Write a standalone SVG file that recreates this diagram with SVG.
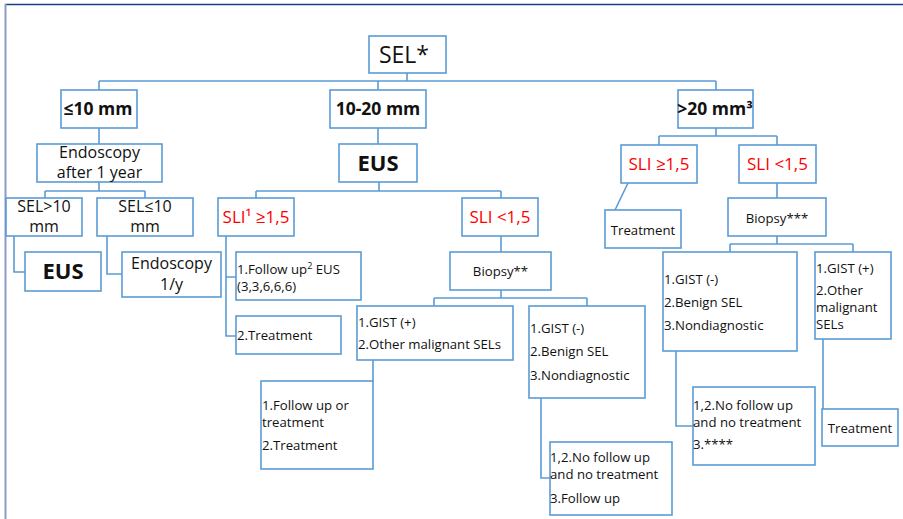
<svg xmlns="http://www.w3.org/2000/svg" width="903" height="519" viewBox="0 0 903 519">
<style>
.b{fill:#fff;stroke:#5b9bd5;stroke-width:1.6}
.c{fill:none;stroke:#5b9bd5;stroke-width:1.6}
text{font-family:"Open Sans","Liberation Sans",sans-serif;fill:#111}
.bd{font-weight:bold;font-size:17.5px}
.r{fill:#ff0000;font-size:17px}
.s{font-size:13.2px}
.l{font-size:16px}
.e{font-weight:bold;font-size:22px}
.m{text-anchor:middle}
</style>
<rect width="903" height="519" fill="#fff"/>
<line x1="5" y1="4.5" x2="903" y2="4.5" stroke="#1f3c88" stroke-width="1.5"/>
<line x1="5.5" y1="4" x2="5.5" y2="519" stroke="#8e9ac6" stroke-width="2"/>
<g id="connectors">
<path class="c" d="M407,73V81M99,81H716M99,81V90M378,81V90M716,81V90"/>
<path class="c" d="M99,128V144M99,182V191M45,191H145M45,191V198M145,191V198"/>
<path class="c" d="M14,236V272H25M107,236V274H122"/>
<path class="c" d="M378,128V144M379,182V191M256,191H501M256,191V198M501,191V198"/>
<path class="c" d="M226,236V336H236M226,277H236"/>
<path class="c" d="M501,236V252M501,290V298M434,298H587M434,298V306M587,298V306"/>
<path class="c" d="M373,360V381M541,398V478H550"/>
<path class="c" d="M716,128V136M659,136H777M659,136V145M777,136V145"/>
<path class="c" d="M628,183L615,210M777,183V198"/>
<path class="c" d="M777,236V244M730,244H853M730,244V252M853,244V252"/>
<path class="c" d="M676,351V426H693M823,339V409"/>
</g>
<g id="n-sel"><rect class="b" x="369" y="36" width="77" height="37"/><text class="m" x="404" y="63" font-size="23">SEL*</text></g>
<g id="n-le10"><rect class="b" x="61" y="90" width="76" height="38"/><text class="m bd" x="98" y="115">≤10 mm</text></g>
<g id="n-10-20"><rect class="b" x="330" y="90" width="96" height="38"/><text class="m bd" x="378" y="115">10-20 mm</text></g>
<g id="n-gt20"><rect class="b" x="678" y="90" width="75" height="38"/><text class="m bd" x="715" y="115">&gt;20 mm³</text></g>
<g id="n-endo1"><rect class="b" x="37" y="144" width="125" height="38"/><text class="m l" x="99.5" y="158">Endoscopy</text><text class="m l" x="99.5" y="178">after 1 year</text></g>
<g id="n-selgt10"><rect class="b" x="6" y="198" width="76" height="38"/><text class="m l" x="44" y="212">SEL&gt;10</text><text class="m l" x="44" y="232">mm</text></g>
<g id="n-selle10"><rect class="b" x="97" y="198" width="96" height="38"/><text class="m l" x="145" y="212">SEL≤10</text><text class="m l" x="145" y="232">mm</text></g>
<g id="n-eus-l"><rect class="b" x="25" y="252" width="76" height="39"/><text class="m e" x="63" y="279">EUS</text></g>
<g id="n-endo-y"><rect class="b" x="122" y="252" width="99" height="45"/><text class="m l" x="171.5" y="269">Endoscopy</text><text class="m l" x="171.5" y="290">1/y</text></g>
<g id="n-eus-m"><rect class="b" x="339" y="144" width="78" height="38"/><text class="m e" x="378" y="171">EUS</text></g>
<g id="n-sli1"><rect class="b" x="218" y="198" width="76" height="38"/><text class="m r" x="256" y="223">SLI¹ ≥1,5</text></g>
<g id="n-sli2"><rect class="b" x="462" y="198" width="76" height="38"/><text class="m r" x="500" y="223">SLI &lt;1,5</text></g>
<g id="n-fu"><rect class="b" x="236" y="252" width="125" height="48"/><text class="s" x="237" y="274">1.Follow up<tspan font-size="9" dy="-5">2</tspan><tspan dy="5"> EUS</tspan></text><text class="s" x="237" y="291">(3,3,6,6,6)</text></g>
<g id="n-tr-m"><rect class="b" x="236" y="316" width="105" height="38"/><text class="s" x="237" y="340">2.Treatment</text></g>
<g id="n-bio2"><rect class="b" x="450" y="252" width="101" height="38"/><text class="m s" x="500.5" y="276">Biopsy**</text></g>
<g id="n-gp-m"><rect class="b" x="357" y="306" width="156" height="54"/><text class="s" x="358" y="327">1.GIST (+)</text><text class="s" x="358" y="349">2.Other malignant SELs</text></g>
<g id="n-gm-m"><rect class="b" x="529" y="306" width="116" height="92"/><text class="s" x="530" y="333">1.GIST (-)</text><text class="s" x="530" y="356">2.Benign SEL</text><text class="s" x="530" y="380">3.Nondiagnostic</text></g>
<g id="n-fut"><rect class="b" x="261" y="381" width="112" height="88"/><text class="s" x="262" y="410">1.Follow up or</text><text class="s" x="262" y="427">treatment</text><text class="s" x="262" y="450">2.Treatment</text></g>
<g id="n-nf-m"><rect class="b" x="550" y="442" width="122" height="73"/><text class="s" x="550" y="462">1,2.No follow up</text><text class="s" x="550" y="479">and no treatment</text><text class="s" x="550" y="503">3.Follow up</text></g>
<g id="n-sli3"><rect class="b" x="621" y="145" width="76" height="38"/><text class="m r" x="659" y="170">SLI ≥1,5</text></g>
<g id="n-sli4"><rect class="b" x="739" y="145" width="77" height="38"/><text class="m r" x="777.5" y="170">SLI &lt;1,5</text></g>
<g id="n-tr-r1"><rect class="b" x="605" y="210" width="76" height="38"/><text class="m s" x="643" y="235">Treatment</text></g>
<g id="n-bio3"><rect class="b" x="728" y="198" width="98" height="38"/><text class="m s" x="777" y="223">Biopsy***</text></g>
<g id="n-gm-r"><rect class="b" x="663" y="252" width="134" height="99"/><text class="s" x="664" y="284">1.GIST (-)</text><text class="s" x="664" y="307">2.Benign SEL</text><text class="s" x="664" y="330">3.Nondiagnostic</text></g>
<g id="n-gp-r"><rect class="b" x="815" y="252" width="76" height="87"/><text class="s" x="816" y="273">1.GIST (+)</text><text class="s" x="816" y="295">2.Other</text><text class="s" x="816" y="312">malignant</text><text class="s" x="816" y="329">SELs</text></g>
<g id="n-nf-r"><rect class="b" x="693" y="387" width="122" height="78"/><text class="s" x="693" y="410">1,2.No follow up</text><text class="s" x="693" y="427">and no treatment</text><text class="s" x="693" y="449">3.****</text></g>
<g id="n-tr-r2"><rect class="b" x="822" y="409" width="76" height="37"/><text class="m s" x="860" y="433">Treatment</text></g>
</svg>
